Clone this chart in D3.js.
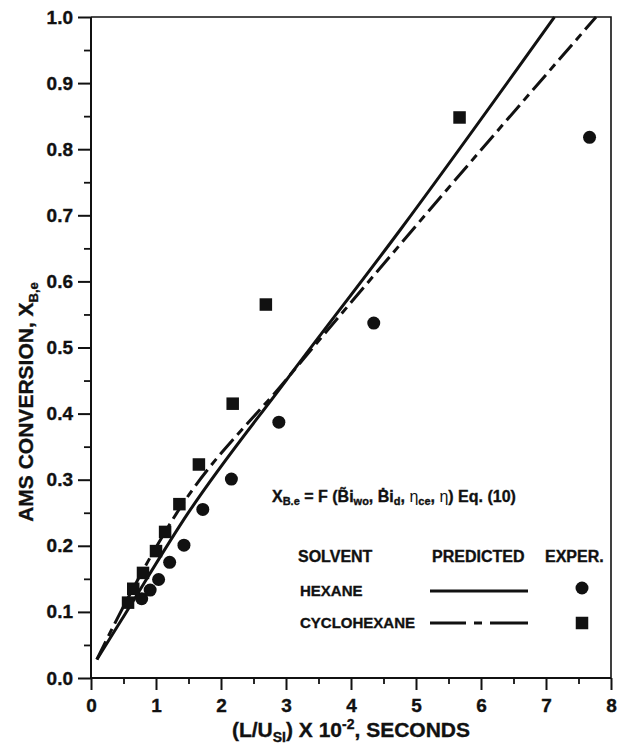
<!DOCTYPE html>
<html>
<head>
<meta charset="utf-8">
<script src="https://cdn.jsdelivr.net/npm/d3@7"></script>
<style>
  html, body { margin: 0; padding: 0; background: #fff; }
  svg { display: block; }
  text { font-family: "Liberation Sans", Arial, Helvetica, sans-serif; font-weight: bold; fill: #111; stroke: #111; stroke-width: 0.35px; }
</style>
</head>
<body>
<svg id="chart" width="619" height="747"></svg>
<script>
// ---------- data ----------
const xTicks = [0, 1, 2, 3, 4, 5, 6, 7, 8];
const yTicks = [0.0, 0.1, 0.2, 0.3, 0.4, 0.5, 0.6, 0.7, 0.8, 0.9, 1.0];

const hexaneExpX = [0.78, 0.91, 1.04, 1.21, 1.43, 1.72, 2.16, 2.89, 4.35, 7.67];
const hexaneExpY = [0.120, 0.133, 0.149, 0.175, 0.201, 0.255, 0.301, 0.387, 0.537, 0.818];

const cycloExpX = [0.57, 0.65, 0.80, 1.00, 1.14, 1.36, 1.66, 2.18, 2.69, 5.67];
const cycloExpY = [0.114, 0.135, 0.159, 0.192, 0.221, 0.263, 0.323, 0.415, 0.565, 0.848];

const hexanePredX = [0.09, 0.47, 1.49, 3.0, 4.75, 7.13];
const hexanePredY = [0.028, 0.088, 0.249, 0.45, 0.677, 1.0];

const cycloPredX = [0.09, 0.394, 1.316, 3.0, 4.74, 7.77];
const cycloPredY = [0.028, 0.088, 0.249, 0.451, 0.654, 1.0];

const legendSolvents = ["HEXANE", "CYCLOHEXANE"];

// ---------- layout ----------
const svg = d3.select("#chart");
svg.append("rect").attr("width", 619).attr("height", 747).attr("fill", "#fff");

const x = d3.scaleLinear().domain([0, 8]).range([91, 611]);
const y = d3.scaleLinear().domain([0, 1]).range([678, 17]);
const ink = "#111";

// frame (top and right)
svg.append("path")
  .attr("d", `M${x(0)},${y(1)}H${x(8)}V${y(0)}`)
  .attr("fill", "none").attr("stroke", ink).attr("stroke-width", 1.6);

// minor ticks
const yMinor = d3.range(0.05, 1, 0.1);
const xMinor = d3.range(0.5, 8, 1);
svg.append("g").attr("transform", `translate(${x(0)},0)`)
  .call(d3.axisLeft(y).tickValues(yMinor).tickSize(7).tickFormat(""))
  .call(g => g.select(".domain").remove())
  .call(g => g.selectAll("line").attr("stroke", ink).attr("stroke-width", 1.8));
svg.append("g").attr("transform", `translate(0,${y(0)})`)
  .call(d3.axisBottom(x).tickValues(xMinor).tickSize(6).tickFormat(""))
  .call(g => g.select(".domain").remove())
  .call(g => g.selectAll("line").attr("stroke", ink).attr("stroke-width", 1.8));

// major axes
const yAxis = svg.append("g").attr("transform", `translate(${x(0)},0)`)
  .call(d3.axisLeft(y).tickValues(yTicks).tickSize(13).tickPadding(5).tickFormat(d3.format(".1f")));
const xAxis = svg.append("g").attr("transform", `translate(0,${y(0)})`)
  .call(d3.axisBottom(x).tickValues(xTicks).tickSize(12).tickPadding(9).tickFormat(d3.format("d")));
[yAxis, xAxis].forEach(g => {
  g.select(".domain").attr("stroke", ink).attr("stroke-width", 2);
  g.selectAll(".tick line").attr("stroke", ink).attr("stroke-width", 2);
  g.selectAll(".tick text").attr("fill", ink)
    .style("font-family", '"Liberation Sans", Arial, sans-serif')
    .style("font-weight", "bold").style("font-size", "19px");
});
yAxis.select(".domain").attr("d", `M0,${y(1)}V${y(0)}`);
xAxis.select(".domain").attr("d", `M${x(0)},0H${x(8)}`);

// ---------- predicted lines ----------
const line = d3.line().x(d => x(d[0])).y(d => y(d[1])).curve(d3.curveMonotoneX);
const hexPred = hexanePredX.map((v, i) => [v, hexanePredY[i]]);
const cycPred = cycloPredX.map((v, i) => [v, cycloPredY[i]]);
svg.append("path").datum(hexPred).attr("d", line)
  .attr("fill", "none").attr("stroke", ink).attr("stroke-width", 3);
svg.append("path").datum(cycPred).attr("d", line)
  .attr("fill", "none").attr("stroke", ink).attr("stroke-width", 3)
  .attr("stroke-dasharray", "20,6,8,6");

// ---------- experimental points ----------
svg.append("g").selectAll("circle")
  .data(hexaneExpX.map((v, i) => [v, hexaneExpY[i]]))
  .join("circle")
  .attr("cx", d => x(d[0])).attr("cy", d => y(d[1])).attr("r", 6.5).attr("fill", ink);
const sq = 12.5;
svg.append("g").selectAll("rect")
  .data(cycloExpX.map((v, i) => [v, cycloExpY[i]]))
  .join("rect")
  .attr("x", d => x(d[0]) - sq / 2).attr("y", d => y(d[1]) - sq / 2)
  .attr("width", sq).attr("height", sq).attr("fill", ink);

// ---------- axis titles ----------
const xt = svg.append("text").attr("x", 351).attr("y", 737).attr("text-anchor", "middle")
  .style("font-size", "21px");
xt.append("tspan").text("(L/U");
xt.append("tspan").text("SI").style("font-size", "14px").attr("dy", 5);
xt.append("tspan").text(") X 10").attr("dy", -5);
xt.append("tspan").text("-2").style("font-size", "14px").attr("dy", -8);
xt.append("tspan").text(", SECONDS").attr("dy", 8);

const yt = svg.append("text").attr("transform", "translate(33,402) rotate(-90)")
  .attr("text-anchor", "middle").style("font-size", "21px");
yt.append("tspan").text("AMS CONVERSION, X");
yt.append("tspan").text("B,e").style("font-size", "13px").attr("dy", 5);

// ---------- equation ----------
const eq = svg.append("text").attr("x", 272).attr("y", 502).style("font-size", "16px");
eq.append("tspan").text("X");
eq.append("tspan").text("B.e").style("font-size", "11px").attr("dy", 3);
eq.append("tspan").text(" = F (B\u0303i").attr("dy", -3);
eq.append("tspan").text("wo").style("font-size", "11px").attr("dy", 3);
eq.append("tspan").text(", \u1E02i").attr("dy", -3);
eq.append("tspan").text("d").style("font-size", "11px").attr("dy", 3);
eq.append("tspan").text(", ").attr("dy", -3);
eq.append("tspan").text("\u03B7").style("font-weight", "normal").style("stroke-width", "0px");
eq.append("tspan").text("ce").style("font-size", "11px").attr("dy", 3);
eq.append("tspan").text(", ").attr("dy", -3);
eq.append("tspan").text("\u03B7").style("font-weight", "normal").style("stroke-width", "0px");
eq.append("tspan").text(") Eq. (10)");

// ---------- legend ----------
const lg = svg.append("g");
lg.append("text").attr("x", 298).attr("y", 562).style("font-size", "16px").text("SOLVENT");
lg.append("text").attr("x", 432).attr("y", 562).style("font-size", "16px").text("PREDICTED");
lg.append("text").attr("x", 545).attr("y", 562).style("font-size", "16px").text("EXPER.");
lg.append("text").attr("x", 300).attr("y", 596).style("font-size", "15px").text(legendSolvents[0]);
lg.append("text").attr("x", 300).attr("y", 628).style("font-size", "15px").text(legendSolvents[1]);
lg.append("line").attr("x1", 430).attr("x2", 528).attr("y1", 591).attr("y2", 591)
  .attr("stroke", ink).attr("stroke-width", 3);
lg.append("line").attr("x1", 430).attr("x2", 528).attr("y1", 623).attr("y2", 623)
  .attr("stroke", ink).attr("stroke-width", 3).attr("stroke-dasharray", "36,8,8,8,40");
lg.append("circle").attr("cx", 582).attr("cy", 588).attr("r", 6.5).attr("fill", ink);
lg.append("rect").attr("x", 582 - sq / 2).attr("y", 623 - sq / 2).attr("width", sq).attr("height", sq).attr("fill", ink);
</script>
</body>
</html>
